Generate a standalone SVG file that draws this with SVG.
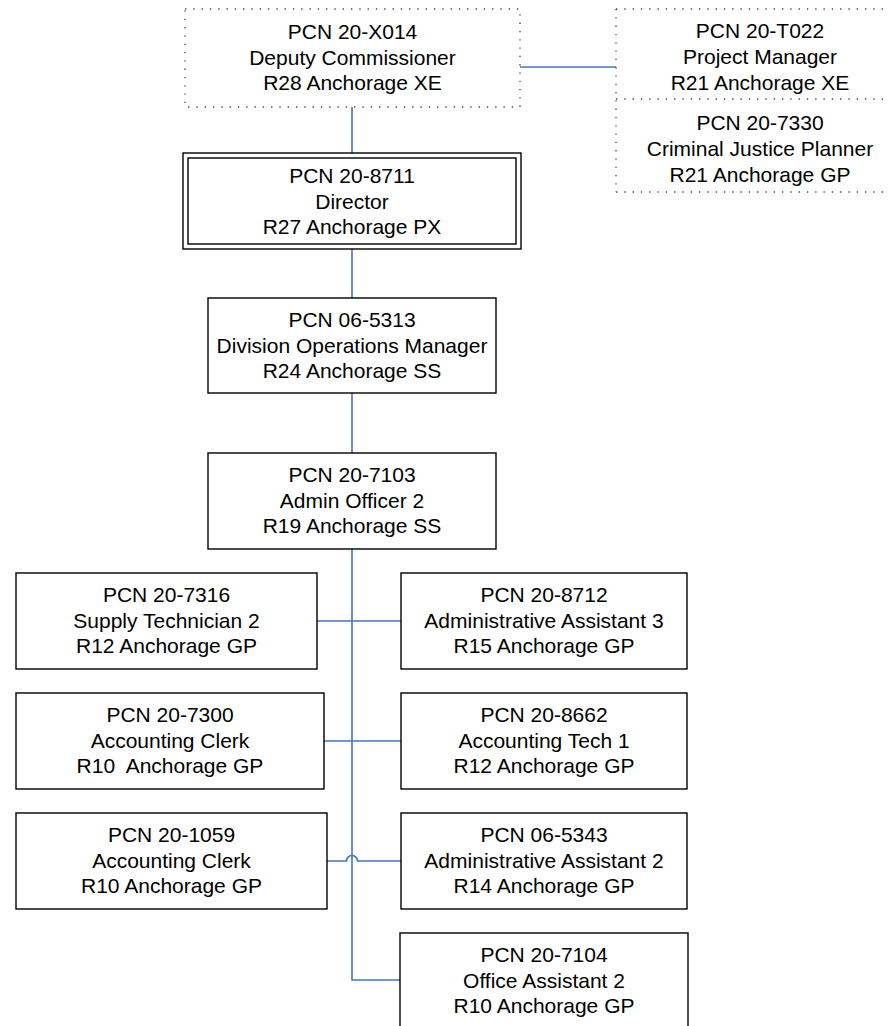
<svg xmlns="http://www.w3.org/2000/svg" width="888" height="1026" viewBox="0 0 888 1026">
<style>
  text { font-family: "Liberation Sans", Arial, sans-serif; font-size: 21px; fill: #000; text-anchor: middle; white-space: pre; }
  .box { fill: #fff; stroke: #000; stroke-width: 1.4; }
  .dot { fill: none; stroke: #444; stroke-width: 1.3; stroke-dasharray: 1.3 7; }
  .conn { fill: none; stroke: #4472C4; stroke-width: 1.6; }
</style>
<rect width="888" height="1026" fill="#fff"/>
<g id="connectors">
  <path class="conn" d="M520 67 H616"/>
  <path class="conn" d="M352 107 V153"/>
  <path class="conn" d="M352 249 V298"/>
  <path class="conn" d="M352 393 V453"/>
  <path class="conn" d="M352 549 V980 H400"/>
  <path class="conn" d="M317 621 H401"/>
  <path class="conn" d="M324 741 H401"/>
  <path class="conn" d="M327 861 H346.5 A5.5 5.5 0 0 1 357.5 861 H401"/>
</g>
<g id="n-x014">
  <rect class="dot" x="185" y="9" width="335" height="98"/>
  <text x="352.5" y="39">PCN 20-X014</text>
  <text x="352.5" y="64.5">Deputy Commissioner</text>
  <text x="352.5" y="90">R28 Anchorage XE</text>
</g>
<g id="n-t022">
  <path class="dot" d="M616 9 V192 M616 9 H904 M616 99 H904 M616 192 H904"/>
  <text x="760" y="38">PCN 20-T022</text>
  <text x="760" y="63.5">Project Manager</text>
  <text x="760" y="89.5">R21 Anchorage XE</text>
</g>
<g id="n-7330">
  <text x="760" y="130">PCN 20-7330</text>
  <text x="760" y="155.5">Criminal Justice Planner</text>
  <text x="760" y="181.5">R21 Anchorage GP</text>
</g>
<g id="n-8711">
  <rect class="box" x="183" y="153" width="338" height="96"/>
  <rect class="box" x="188" y="158" width="328" height="86"/>
  <text x="352" y="183">PCN 20-8711</text>
  <text x="352" y="208.5">Director</text>
  <text x="352" y="234">R27 Anchorage PX</text>
</g>
<g id="n-5313">
  <rect class="box" x="208" y="298" width="288" height="95"/>
  <text x="352" y="327">PCN 06-5313</text>
  <text x="352" y="352.5">Division Operations Manager</text>
  <text x="352" y="378">R24 Anchorage SS</text>
</g>
<g id="n-7103">
  <rect class="box" x="208" y="453" width="288" height="96"/>
  <text x="352" y="482">PCN 20-7103</text>
  <text x="352" y="507.5">Admin Officer 2</text>
  <text x="352" y="533">R19 Anchorage SS</text>
</g>
<g id="n-7316">
  <rect class="box" x="16" y="573" width="301" height="96"/>
  <text x="166.5" y="602">PCN 20-7316</text>
  <text x="166.5" y="627.5">Supply Technician 2</text>
  <text x="166.5" y="653">R12 Anchorage GP</text>
</g>
<g id="n-8712">
  <rect class="box" x="401" y="573" width="286" height="96"/>
  <text x="544" y="602">PCN 20-8712</text>
  <text x="544" y="627.5">Administrative Assistant 3</text>
  <text x="544" y="653">R15 Anchorage GP</text>
</g>
<g id="n-7300">
  <rect class="box" x="16" y="693" width="308" height="96"/>
  <text x="170" y="722">PCN 20-7300</text>
  <text x="170" y="747.5">Accounting Clerk</text>
  <text x="170" y="773">R10  Anchorage GP</text>
</g>
<g id="n-8662">
  <rect class="box" x="401" y="693" width="286" height="96"/>
  <text x="544" y="722">PCN 20-8662</text>
  <text x="544" y="747.5">Accounting Tech 1</text>
  <text x="544" y="773">R12 Anchorage GP</text>
</g>
<g id="n-1059">
  <rect class="box" x="16" y="813" width="311" height="96"/>
  <text x="171.5" y="842">PCN 20-1059</text>
  <text x="171.5" y="867.5">Accounting Clerk</text>
  <text x="171.5" y="893">R10 Anchorage GP</text>
</g>
<g id="n-5343">
  <rect class="box" x="401" y="813" width="286" height="96"/>
  <text x="544" y="842">PCN 06-5343</text>
  <text x="544" y="867.5">Administrative Assistant 2</text>
  <text x="544" y="893">R14 Anchorage GP</text>
</g>
<g id="n-7104">
  <rect class="box" x="400" y="933" width="288" height="96"/>
  <text x="544" y="962">PCN 20-7104</text>
  <text x="544" y="987.5">Office Assistant 2</text>
  <text x="544" y="1013">R10 Anchorage GP</text>
</g>
</svg>
